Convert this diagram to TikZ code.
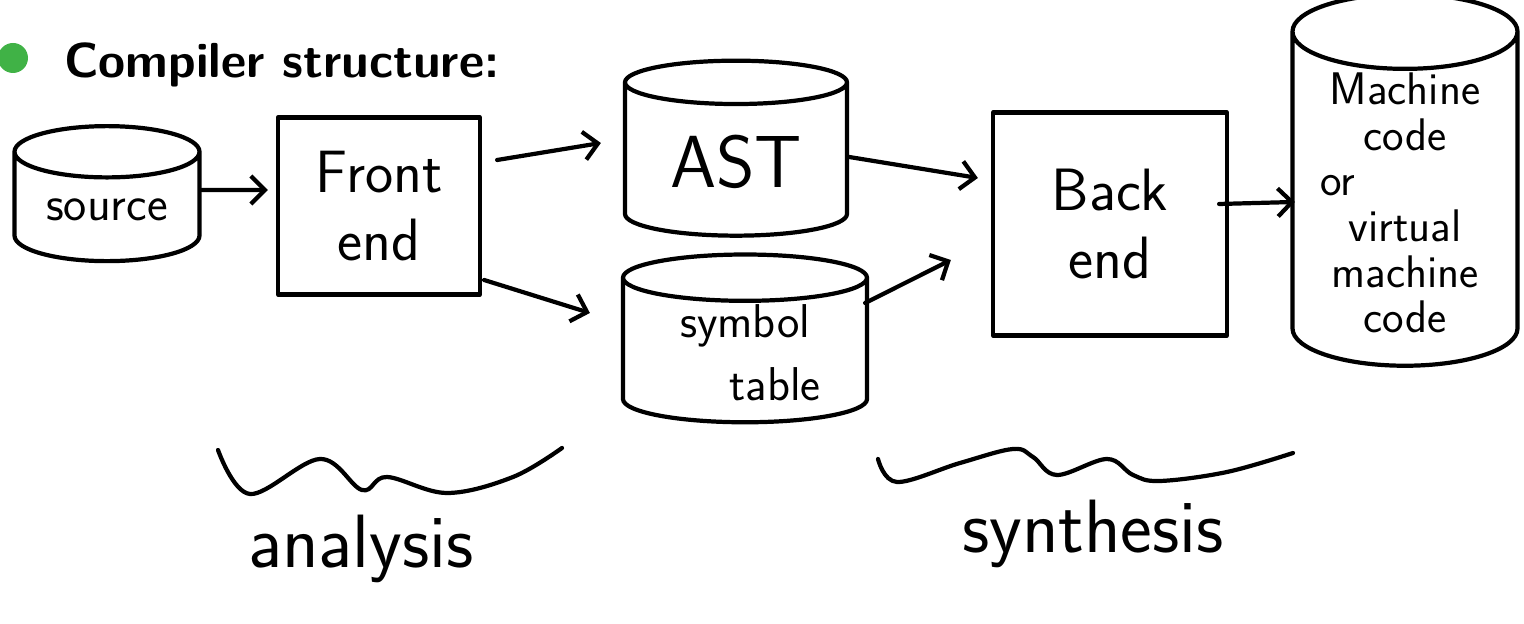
\documentclass[tikz,border=0pt]{standalone}
\usetikzlibrary{shapes.geometric,arrows.meta}
\definecolor{bulletgreen}{RGB}{64,178,70}
\begin{document}
\begin{tikzpicture}[line width=2.4pt,line cap=round,line join=round]
  \tikzset{drum/.style={draw,cylinder,shape border rotate=90,inner sep=1pt,font=\sffamily\fontsize{26}{26}\selectfont,align=center},
           stage/.style={draw,rectangle,inner sep=2pt,font=\sffamily\fontsize{34}{39}\selectfont,align=center},
           hand/.style={font=\sffamily\fontsize{43}{45}\selectfont},
           arr/.style={-{Straight Barb[length=8pt,width=16pt]}}}
  \useasboundingbox (0,0) rectangle (30.48,12.48);
  % heading
  \fill[bulletgreen] (0.26,11.32) circle (0.3);
  \node[anchor=base west,inner sep=0pt,font=\sffamily\bfseries\fontsize{28}{32}\selectfont] (title) at (1.24,10.92) {Compiler structure:};
  % stores and phases
  \node[drum,minimum width=3.7cm,minimum height=2.7cm,aspect=0.41,font=\sffamily\fontsize{28}{30}\selectfont] (src) at (2.14,8.28) {source};
  \node[stage,minimum width=4.04cm,minimum height=3.54cm] (fe) at (7.58,8.36) {Front\\end};
  \node[drum,minimum width=4.44cm,minimum height=3.5cm,aspect=0.32,font=\sffamily\fontsize{42}{44}\selectfont] (ast) at (14.72,9.24) {AST};
  \node[drum,minimum width=4.88cm,minimum height=2.9cm,aspect=0.3,font=\sffamily\fontsize{27}{36}\selectfont] (sym) at (14.9,5.42) {symbol\\\hspace*{1.2cm}table};
  \node[stage,minimum width=4.68cm,minimum height=4.46cm] (be) at (22.2,8.0) {Back\\end};
  \node[drum,minimum width=4.5cm,minimum height=6.62cm,aspect=0.43] (mc) at (28.1,8.42) {Machine\\code\\\makebox[3.4cm][l]{or}\\virtual\\machine\\code};
  % data flow
  \draw[arr] ([yshift=0.4cm]src.east) -- ([shift={(-0.16,0.32)}]fe.west);
  \draw[arr] ([shift={(0.3,0.92)}]fe.east) -- ([shift={(-0.44,0.38)}]ast.west);
  \draw[arr] ([shift={(0.04,-1.48)}]fe.east) -- ([shift={(-0.62,0.8)}]sym.west);
  \draw[arr] ([yshift=0.1cm]ast.east) -- ([shift={(-0.26,0.92)}]be.west);
  \draw[arr] ([shift={(-0.08,1.0)}]sym.east) -- ([shift={(-0.8,-0.72)}]be.west);
  \draw[arr] ([shift={(-0.2,0.4)}]be.east) -- ([shift={(0.09,0.02)}]mc.west);
  % the two halves
  \draw plot[smooth,tension=0.6] coordinates {(4.36,3.48) (5.0,2.6) (6.4,3.3) (7.24,2.68) (7.74,2.94) (8.94,2.62) (10.26,2.94) (11.24,3.52)};
  \draw plot[smooth,tension=0.6] coordinates {(17.56,3.3) (17.94,2.84) (19.2,3.22) (20.26,3.5) (20.66,3.34) (21.14,2.98) (22.14,3.3) (22.66,2.98) (23.2,2.86) (24.54,3.04) (25.86,3.42)};
  \node[hand,anchor=base] (ana) at (7.22,1.12) {analysis};
  \node[hand,anchor=base] (syn) at (21.86,1.42) {synthesis};
\end{tikzpicture}
\end{document}
